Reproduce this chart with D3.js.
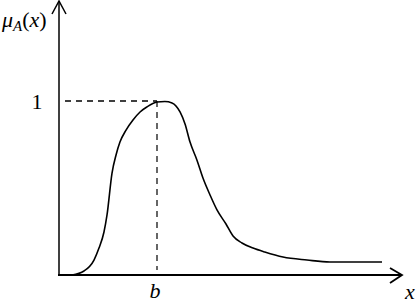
<!DOCTYPE html>
<html>
<head>
<meta charset="utf-8">
<script src="https://cdn.jsdelivr.net/npm/d3@7"></script>
<style>
  html, body { margin: 0; padding: 0; background: #fff; }
</style>
</head>
<body>
<svg id="chart"></svg>
<script>
// membership curve mu_A(x) (b = 10)
const xs = [1.33, 2.55, 3.57, 4.08, 4.59, 4.9, 5.41, 5.82, 6.22, 6.84, 7.55, 8.27, 8.98, 10.0, 10.8, 11.53,
            12.35, 12.86, 13.37, 14.08, 14.69, 15.41, 16.12, 17.04, 17.76, 18.67, 19.8, 21.0, 22.86, 25.31, 27.65, 32.96];
const mu = [0, 0.023, 0.086, 0.155, 0.247, 0.345, 0.586, 0.69, 0.764, 0.833, 0.891, 0.937, 0.966, 0.994, 0.997, 0.989,
            0.937, 0.868, 0.764, 0.66, 0.557, 0.46, 0.374, 0.293, 0.224, 0.184, 0.155, 0.132, 0.103, 0.086, 0.075, 0.075];
const bValue = 10;
const peakValue = 1;
const yTickLabels = ["1"];
const xTickLabels = ["b"];

const width = 416, height = 303;
const serif = "Liberation Serif";

const svg = d3.select("#chart")
    .attr("width", width)
    .attr("height", height);

const x = d3.scaleLinear()
    .domain([0, 35])
    .range([59, 402]);

const y = d3.scaleLinear()
    .domain([0, 1])
    .range([275, 101]);

// axes
svg.append("line")
    .attr("x1", x(0)).attr("y1", y(0))
    .attr("x2", x(0)).attr("y2", 1)
    .attr("stroke", "#000").attr("stroke-width", 1.5);

svg.append("line")
    .attr("x1", x(0) - 1).attr("y1", y(0))
    .attr("x2", x(35)).attr("y2", y(0))
    .attr("stroke", "#000").attr("stroke-width", 2.2);

// open arrow heads
svg.append("path")
    .attr("d", `M${x(0) - 7},14 L${x(0)},1 L${x(0) + 7},14`)
    .attr("fill", "none").attr("stroke", "#000").attr("stroke-width", 1.5);

svg.append("path")
    .attr("d", `M${x(35) - 12},${y(0) - 7} L${x(35)},${y(0)} L${x(35) - 12},${y(0) + 8}`)
    .attr("fill", "none").attr("stroke", "#000").attr("stroke-width", 1.8);

// dashed guides at the peak
svg.append("line")
    .attr("x1", x(0) + 6).attr("y1", y(peakValue))
    .attr("x2", x(bValue)).attr("y2", y(peakValue))
    .attr("stroke", "#000").attr("stroke-width", 1.3)
    .attr("stroke-dasharray", "6,5");

svg.append("line")
    .attr("x1", x(bValue)).attr("y1", y(peakValue))
    .attr("x2", x(bValue)).attr("y2", y(0) - 5)
    .attr("stroke", "#000").attr("stroke-width", 1.2)
    .attr("stroke-dasharray", "6,5");

// curve
const line = d3.line()
    .x((d, i) => x(xs[i]))
    .y(d => y(d))
    .curve(d3.curveMonotoneX);

svg.append("path")
    .datum(mu)
    .attr("d", line)
    .attr("fill", "none")
    .attr("stroke", "#000")
    .attr("stroke-width", 1.6);

// labels
svg.append("text")
    .attr("x", 37).attr("y", y(peakValue) + 8)
    .attr("text-anchor", "middle")
    .attr("font-family", serif).attr("font-size", 22)
    .text(yTickLabels[0]);

svg.append("text")
    .attr("x", x(bValue) - 2).attr("y", 298)
    .attr("text-anchor", "middle")
    .attr("font-family", serif).attr("font-size", 22).attr("font-style", "italic")
    .text(xTickLabels[0]);

svg.append("text")
    .attr("x", 405).attr("y", 299)
    .attr("font-family", serif).attr("font-size", 22).attr("font-style", "italic")
    .text("x");

const yLabel = svg.append("text")
    .attr("x", 2).attr("y", 27)
    .attr("font-family", serif).attr("font-size", 22);
yLabel.append("tspan").attr("font-style", "italic").text("μ");
yLabel.append("tspan").attr("font-style", "italic").attr("font-size", 15).attr("dy", 4).text("A");
yLabel.append("tspan").attr("dy", -4).text("(");
yLabel.append("tspan").attr("font-style", "italic").text("x");
yLabel.append("tspan").text(")");
</script>
</body>
</html>
